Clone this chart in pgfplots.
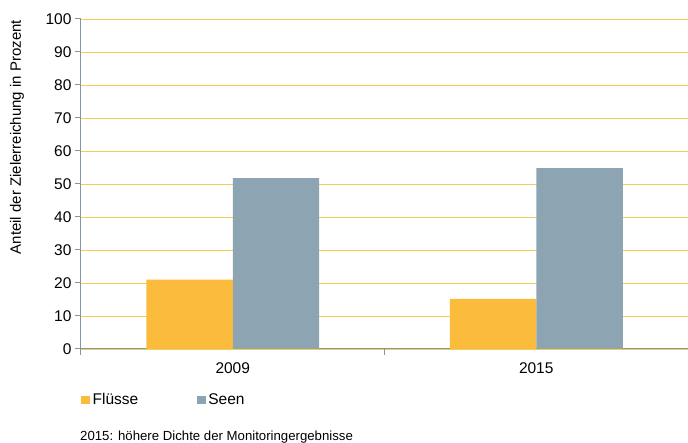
\documentclass[border=0pt]{standalone}
\usepackage{pgfplots}
\pgfplotsset{compat=1.18}
\usepackage{fontspec}
\setmainfont{Liberation Sans}
\definecolor{fluss}{HTML}{FBBC3E}
\definecolor{seen}{HTML}{8DA4B3}
\definecolor{axcol}{HTML}{7E98A8}
\definecolor{gridcol}{HTML}{F4CD55}
\begin{document}
\begin{tikzpicture}
\path[use as bounding box] (-81pt,-94pt) rectangle (607pt,349pt);
\begin{axis}[
  scale only axis,
  width=607pt, height=330pt,
  ybar=0pt, bar width=0.285,
  xmin=-0.5, xmax=1.5,
  ymin=0, ymax=100,
  xtick={-0.5,0.5,1.5}, xticklabels={,,},
  extra x ticks={0,1}, extra x tick labels={2009,2015},
  extra x tick style={major tick length=0pt, grid=none},
  ytick={0,10,...,100},
  tick style={draw=axcol, line width=1pt},
  major tick length=6pt,
  tick align=outside,
  axis lines*=left,
  axis line style={draw=axcol, line width=1pt},
  ymajorgrids,
  grid style={draw=gridcol, line width=0.9pt},
  ticklabel style={font=\fontsize{15.5}{18}\selectfont},
  /pgf/number format/assume math mode=true,
  xticklabel style={yshift=-10pt},
  yticklabel style={xshift=0pt},
  ylabel={Anteil der Zielerreichung in Prozent},
  ylabel style={at={(axis description cs:-0.1054,0.642)}, anchor=center, font=\fontsize{15}{18}\selectfont},
  legend columns=2,
  legend style={at={(axis description cs:0,0)}, anchor=west, yshift=-51pt, draw=none, fill=none, inner sep=0pt,
    font=\fontsize{15.5}{18}\selectfont, /tikz/every even column/.append style={column sep=56pt},
    nodes={inner sep=2.5pt}},
  clip=false,
]
\addplot[fill=fluss, draw=none, legend image code/.code={\fill[fluss] (0pt,-4pt) rectangle (9pt,4pt);}] coordinates {(0,21) (1,15.2)};
\addplot[fill=seen, draw=none, legend image code/.code={\fill[seen] (0pt,-4pt) rectangle (9pt,4pt);}] coordinates {(0,51.8) (1,54.8)};
\legend{Flüsse, Seen}
\node[anchor=west, font=\fontsize{13.2}{16}\selectfont, inner sep=0pt] at (axis description cs:0,0) [xshift=-1pt, yshift=-88pt] {2015: höhere Dichte der Monitoringergebnisse};
\end{axis}
\end{tikzpicture}
\end{document}
